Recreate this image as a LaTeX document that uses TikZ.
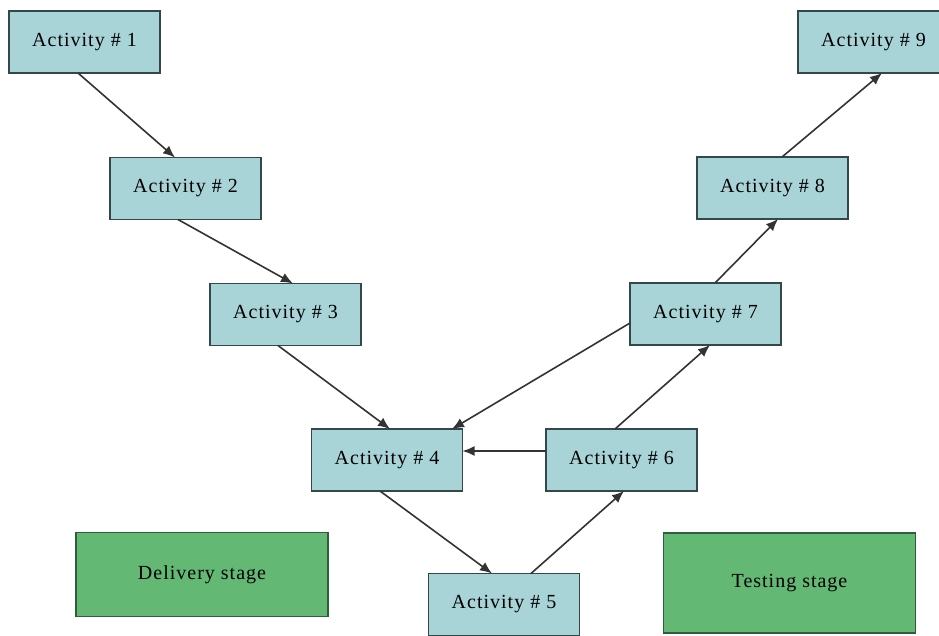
\documentclass[tikz,border=0pt]{standalone}
\usepackage{fontspec}
\setmainfont{Liberation Serif}
\usepackage{tikz}
\usetikzlibrary{arrows.meta, positioning, calc}
\definecolor{actFill}{HTML}{A8D4D8}
\definecolor{actLine}{HTML}{34484A}
\definecolor{stageFill}{HTML}{63B874}
\definecolor{stageLine}{HTML}{2E5E3A}
\definecolor{arrowGray}{HTML}{333333}

\tikzset{
  actbox/.style={draw=actLine, fill=actFill, line width=1.8pt, minimum width=151pt,
    minimum height=62pt, inner sep=0pt, outer sep=0pt,
    font=\fontsize{20}{23}\selectfont\addfontfeatures{LetterSpace=5}},
  stagebox/.style={draw=stageLine, fill=stageFill, line width=1.5pt, minimum width=252pt,
    minimum height=84pt, inner sep=0pt,
    font=\fontsize{20}{23}\selectfont\addfontfeatures{LetterSpace=5}},
  flow/.style={draw=arrowGray, line width=1.6pt, -{Latex[length=12pt, width=10pt]}}
}

\begin{document}
\begin{tikzpicture}[x=1pt, y=-1pt]
    \clip (0,0) rectangle (939,635);
    \fill[white] (0,0) rectangle (939,635);
    % activities
    \foreach \n/\x/\y in {1/84.5/42, 2/185.5/188.5, 3/285.5/314.5, 4/387/460, 5/504/604.5,
                          6/621.5/460, 7/705.5/314, 8/772.5/188, 9/873.5/42} {
      \node[actbox] (act\n) at (\x,\y) {Activity \# \n};
    }
    % stages
    \node[stagebox] (delivery) at (202,574.5) {Delivery stage};
    \node[stagebox, minimum height=100pt] (testing) at (789.5,583) {Testing stage};
    % connectors
    \draw[flow] ([xshift=-6.5pt]act1.south) -- ([xshift=-10.5pt]act2.north);
    \draw[flow] ([xshift=-7.5pt]act2.south) -- ([xshift=7.5pt]act3.north);
    \draw[flow] ([xshift=-7.5pt]act3.south) -- ([xshift=3pt]act4.north);
    \draw[flow] ([xshift=-7pt]act4.south) -- ([xshift=-12pt]act5.north);
    \draw[flow] ([xshift=27pt]act5.north) -- ([xshift=2.5pt]act6.south);
    \draw[flow] ([yshift=9pt]act6.west) -- ([yshift=9pt]act4.east);
    \draw[flow] ([xshift=-6.5pt]act6.north) -- ([xshift=4.5pt]act7.south);
    \draw[flow] ([yshift=-9pt]act7.west) -- ([xshift=65pt]act4.north);
    \draw[flow] ([xshift=9.5pt]act7.north) -- ([xshift=5.5pt]act8.south);
    \draw[flow] ([xshift=9.5pt]act8.north) -- ([xshift=8.5pt]act9.south);
\end{tikzpicture}
\end{document}
